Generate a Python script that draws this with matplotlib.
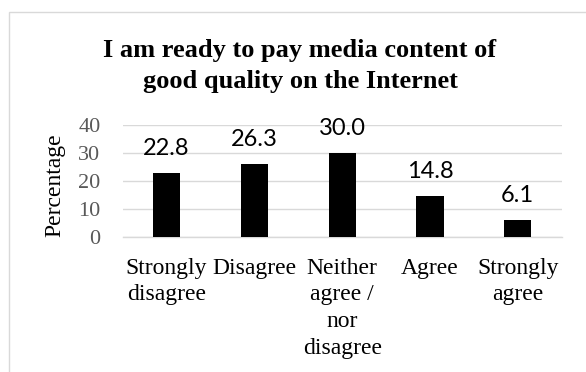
import matplotlib
matplotlib.use('Agg')
import matplotlib.pyplot as plt
from matplotlib.patches import Rectangle

categories = ['Strongly\ndisagree', 'Disagree', 'Neither\nagree /\nnor\ndisagree', 'Agree', 'Strongly\nagree']
values = [22.8, 26.3, 30.0, 14.8, 6.1]
yticks = [0, 10, 20, 30, 40]
title = 'I am ready to pay media content of\ngood quality on the Internet'

fig = plt.figure(figsize=(5.86, 3.72), dpi=100)
fig.patch.set_facecolor('white')

# chart frame (cut off at right/bottom like the source)
fig.patches.append(Rectangle((8.5 / 586, -0.1), 1.2, (372 - 12) / 372 + 0.1,
                             transform=fig.transFigure, fill=False,
                             edgecolor='#d9d9d9', linewidth=1.0))

ax = fig.add_axes([122.7 / 586, (372 - 236.7) / 372, 439 / 586, 111.2 / 372])
x = range(len(values))
bars = ax.bar(x, values, width=0.31, color='black', zorder=3)

ax.set_xlim(-0.5, len(values) - 0.5)
ax.set_ylim(0, 40)
ax.set_yticks(yticks)
ax.yaxis.grid(True, color='#d9d9d9', linewidth=1.0)
ax.set_axisbelow(True)
for s in ['top', 'right', 'left']:
    ax.spines[s].set_visible(False)
ax.spines['bottom'].set_color('#d9d9d9')
ax.spines['bottom'].set_linewidth(1.0)

ax.tick_params(axis='both', length=0)
ax.tick_params(axis='y', pad=16, labelcolor='#595959')
ax.tick_params(axis='x', pad=15)
ax.set_xticks(list(x))
ax.set_xticklabels(categories, family='Liberation Serif', fontsize=17,
                   linespacing=1.37, ha='center', va='top')
for lab in ax.get_yticklabels():
    lab.set_family('Liberation Serif')
    lab.set_fontsize(16)

for xi, v in zip(x, values):
    ax.annotate(f'{v:.1f}', (xi, v), xytext=(0, 13), textcoords='offset points',
                ha='center', va='baseline', family='Lato', fontsize=17)

fig.text(55 / 586, (372 - 185) / 372, 'Percentage', rotation=90,
         ha='center', va='center', family='Liberation Serif', fontsize=17)

# baseline alignment here sits on the last line
fig.text(300 / 586, (372 - 88.3) / 372, title, ha='center', va='baseline',
         family='Liberation Serif', fontweight='bold', fontsize=19,
         linespacing=1.47)

fig.savefig('out.png', dpi=100)
